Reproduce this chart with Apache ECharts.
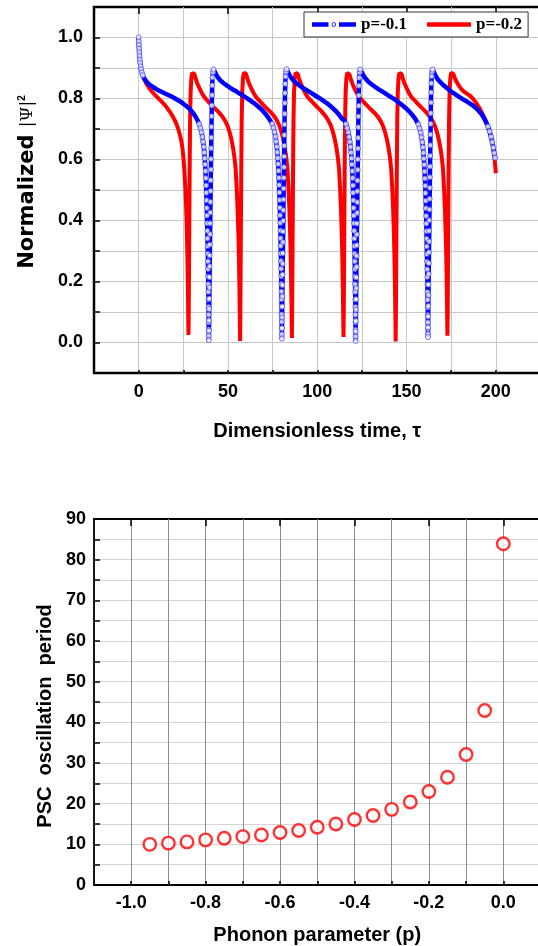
<!DOCTYPE html>
<html>
<head>
<meta charset="utf-8">
<script src="https://cdn.jsdelivr.net/npm/echarts@6.0.0/dist/echarts.min.js"></script>
<style>
  html, body { margin: 0; padding: 0; background: #fff; }
  #chart { width: 538px; height: 946px; }
</style>
</head>
<body>
<div id="chart"></div>
<script>
// ---- Tick labels ----
const tauTicks = [0, 50, 100, 150, 200];
const psiTicks = [0.0, 0.2, 0.4, 0.6, 0.8, 1.0];
const pTicks = [-1.0, -0.8, -0.6, -0.4, -0.2, 0.0];
const periodTicks = [0, 10, 20, 30, 40, 50, 60, 70, 80, 90];

// ---- Upper panel: normalized |Psi|^2 versus tau, [tau, value] ----
// p = -0.1
const blueStart = [
  [0,1.000],[0.08,0.987],[0.16,0.975],[0.25,0.963],[0.36,0.951],[0.5,0.939],[0.66,0.927],[0.86,0.916],
  [1.1,0.905],[1.4,0.895],[1.8,0.885],[2.3,0.876],[3.0,0.867],[3.9,0.859],[5.0,0.851],[6.4,0.844],
  [8.2,0.837],[10.4,0.829],[12.8,0.822],[15.3,0.815],[17.9,0.808],[20.4,0.800],[22.8,0.792],[25.0,0.783],
  [27.0,0.774],[28.8,0.764],[30.4,0.753],[31.8,0.741],[33.0,0.728],[33.9,0.716],[34.6,0.703],[35.2,0.689],
  [35.7,0.674],[36.1,0.658],[36.45,0.641],[36.75,0.623],[37.0,0.604],[37.22,0.584],[37.42,0.562],[37.6,0.539],
  [37.76,0.515],[37.9,0.491],[38.03,0.466],[38.15,0.441],[38.26,0.416],[38.36,0.391],[38.46,0.366],[38.55,0.341],
  [38.63,0.316],[38.71,0.291],[38.78,0.266],[38.85,0.241],[38.92,0.216],[38.98,0.191],[39.04,0.166],[39.09,0.141],
  [39.14,0.116],[39.18,0.091],[39.22,0.066],[39.25,0.043],[39.28,0.022],[39.3,0.008]
];
const blueCycle1 = [
  [39.34,0.038],[39.41,0.073],[39.48,0.109],[39.56,0.144],[39.63,0.180],[39.7,0.214],[39.78,0.250],[39.85,0.285],
  [39.93,0.321],[40.0,0.355],[40.08,0.391],[40.15,0.426],[40.23,0.461],[40.31,0.497],[40.38,0.532],[40.46,0.567],
  [40.54,0.602],[40.62,0.637],[40.7,0.672],[40.78,0.707],[40.87,0.742],[40.96,0.777],[41.06,0.811],[41.19,0.843],
  [41.36,0.869],[41.6,0.886],[41.9,0.895],
  [42.3,0.892],[42.8,0.886],[43.5,0.877],[44.5,0.868],[45.8,0.859],[47.4,0.851],[49.5,0.842],[52.0,0.832],
  [55.0,0.822],[58.2,0.810],[61.4,0.798],[64.4,0.786],[67.1,0.773],[69.5,0.760],[71.4,0.747],[72.9,0.735],
  [73.9,0.729],[74.8,0.717],[75.5,0.704],[76.1,0.690],[76.6,0.675],[77.0,0.659],[77.35,0.642],[77.65,0.624],
  [77.9,0.605],[78.12,0.585],[78.32,0.563],[78.5,0.540],[78.66,0.516],[78.8,0.492],[78.93,0.467],[79.05,0.442],
  [79.16,0.417],[79.26,0.392],[79.36,0.367],[79.45,0.342],[79.53,0.317],[79.61,0.292],[79.68,0.267],[79.75,0.242],
  [79.82,0.217],[79.88,0.192],[79.94,0.167],[79.99,0.142],[80.04,0.117],[80.08,0.092],[80.12,0.068],[80.15,0.046],
  [80.18,0.027],[80.2,0.013]
];
const blueCycle2 = [
  [80.24,0.047],[80.31,0.082],[80.38,0.118],[80.46,0.152],[80.53,0.188],[80.6,0.223],[80.68,0.258],[80.75,0.293],
  [80.83,0.329],[80.9,0.364],[80.98,0.399],[81.05,0.434],[81.13,0.469],[81.21,0.505],[81.28,0.540],[81.36,0.575],
  [81.44,0.610],[81.52,0.645],[81.6,0.680],[81.68,0.715],[81.77,0.750],[81.86,0.785],[81.96,0.818],[82.09,0.848],
  [82.26,0.872],[82.5,0.888],[82.8,0.896],
  [83.2,0.892],[83.7,0.886],[84.4,0.877],[85.4,0.868],[86.7,0.859],[88.3,0.850],[90.4,0.841],[92.9,0.831],
  [95.9,0.821],[99.1,0.809],[102.3,0.797],[105.3,0.785],[108.0,0.772],[110.4,0.759],[112.3,0.746],[113.8,0.734],
  [115.2,0.728],[116.1,0.716],[116.8,0.703],[117.4,0.689],[117.9,0.674],[118.3,0.658],[118.65,0.641],[118.95,0.623],
  [119.2,0.604],[119.42,0.584],[119.62,0.562],[119.8,0.539],[119.96,0.515],[120.1,0.491],[120.23,0.466],[120.35,0.441],
  [120.46,0.416],[120.56,0.391],[120.66,0.366],[120.75,0.341],[120.83,0.316],[120.91,0.291],[120.98,0.266],[121.05,0.241],
  [121.12,0.216],[121.18,0.191],[121.24,0.166],[121.29,0.141],[121.34,0.116],[121.38,0.091],[121.42,0.066],[121.45,0.042],
  [121.48,0.020],[121.5,0.005]
];
const blueCycle3 = [
  [121.54,0.036],[121.61,0.071],[121.68,0.107],[121.76,0.142],[121.83,0.178],[121.9,0.213],[121.98,0.248],[122.05,0.284],
  [122.13,0.319],[122.2,0.354],[122.28,0.390],[122.35,0.425],[122.43,0.460],[122.51,0.496],[122.58,0.531],[122.66,0.566],
  [122.74,0.601],[122.82,0.636],[122.9,0.671],[122.98,0.706],[123.07,0.741],[123.16,0.776],[123.26,0.810],[123.39,0.842],
  [123.56,0.868],[123.8,0.886],[124.1,0.895],
  [124.5,0.892],[125.0,0.886],[125.7,0.877],[126.7,0.868],[128.0,0.859],[129.6,0.850],[131.7,0.841],[134.2,0.831],
  [137.2,0.820],[140.4,0.808],[143.6,0.796],[146.6,0.783],[149.3,0.770],[151.6,0.757],[153.5,0.744],[154.9,0.733],
  [155.7,0.727],[156.6,0.715],[157.3,0.702],[157.9,0.688],[158.4,0.673],[158.8,0.657],[159.15,0.640],[159.45,0.622],
  [159.7,0.603],[159.92,0.583],[160.12,0.561],[160.3,0.538],[160.46,0.514],[160.6,0.490],[160.73,0.465],[160.85,0.440],
  [160.96,0.415],[161.06,0.390],[161.16,0.365],[161.25,0.340],[161.33,0.315],[161.41,0.290],[161.48,0.265],[161.55,0.240],
  [161.62,0.215],[161.68,0.190],[161.74,0.165],[161.79,0.140],[161.84,0.115],[161.88,0.090],[161.92,0.066],[161.95,0.045],
  [161.98,0.028],[162.0,0.018]
];
const blueCycle4 = [
  [162.04,0.050],[162.11,0.085],[162.18,0.120],[162.26,0.155],[162.33,0.190],[162.4,0.225],[162.48,0.260],[162.55,0.296],
  [162.63,0.331],[162.7,0.366],[162.78,0.401],[162.85,0.436],[162.93,0.471],[163.01,0.507],[163.08,0.542],[163.16,0.577],
  [163.24,0.612],[163.32,0.647],[163.4,0.682],[163.48,0.717],[163.57,0.752],[163.66,0.787],[163.76,0.820],[163.89,0.850],
  [164.06,0.873],[164.3,0.888],[164.6,0.895],
  [165.0,0.891],[165.5,0.884],[166.2,0.875],[167.2,0.865],[168.5,0.856],[170.2,0.846],[172.4,0.835],[175.0,0.823],
  [178.0,0.811],[181.2,0.799],[184.3,0.788],[187.2,0.777],[189.6,0.765],[191.6,0.752],[193.2,0.738],[194.5,0.723],
  [195.6,0.708],[196.5,0.692],[197.3,0.675],[198.0,0.657],[198.6,0.639],[199.1,0.621],[199.6,0.606],[200.0,0.600]
];

// p = -0.2
const redStart = [
  [0,1.000],[0.15,0.975],[0.35,0.952],[0.65,0.930],[1.05,0.910],[1.6,0.892],[2.3,0.876],[3.2,0.862],
  [4.3,0.849],[5.7,0.836],[7.4,0.823],[9.4,0.810],[11.6,0.797],[13.7,0.785],[15.6,0.772],[17.3,0.758],
  [18.8,0.744],[20.1,0.730],[21.2,0.716],[22.2,0.699],[23.0,0.683],[23.8,0.664],[24.5,0.638],[25.1,0.604],
  [25.6,0.563],[26.1,0.512],[26.55,0.452],[26.95,0.375],[27.25,0.295],[27.5,0.210],[27.68,0.130],[27.8,0.065],
  [27.9,0.025]
];
const redCycle1 = [
  [28.05,0.10],[28.3,0.33],[28.55,0.56],[28.8,0.73],[29.1,0.82],[29.5,0.866],[30.0,0.884],[30.6,0.889],
  [31.2,0.880],[31.9,0.866],[32.8,0.850],[34.1,0.833],[35.6,0.815],[37.1,0.802],[38.8,0.791],[40.6,0.780],
  [42.4,0.769],[44.0,0.760],[45.3,0.752],[47.0,0.740],[48.5,0.726],[49.8,0.710],[50.9,0.690],[51.9,0.667],
  [52.8,0.640],[53.6,0.608],[54.3,0.570],[54.9,0.505],[55.4,0.435],[55.8,0.362],[56.1,0.290],[56.35,0.210],
  [56.55,0.130],[56.7,0.060],[56.8,0.005]
];
const redCycle2 = [
  [56.95,0.10],[57.2,0.33],[57.45,0.56],[57.7,0.73],[58.0,0.82],[58.4,0.866],[58.9,0.884],[59.5,0.889],
  [60.1,0.881],[60.8,0.867],[61.7,0.851],[63.0,0.834],[64.5,0.816],[66.0,0.803],[67.7,0.792],[69.5,0.781],
  [71.3,0.770],[72.9,0.761],[74.3,0.753],[76.0,0.741],[77.5,0.727],[78.8,0.711],[79.9,0.691],[80.9,0.668],
  [81.8,0.641],[82.6,0.609],[83.3,0.571],[83.9,0.506],[84.4,0.436],[84.8,0.363],[85.1,0.290],[85.35,0.210],
  [85.55,0.130],[85.7,0.060],[85.8,0.015]
];
const redCycle3 = [
  [85.95,0.10],[86.2,0.33],[86.45,0.56],[86.7,0.73],[87.0,0.82],[87.4,0.866],[87.9,0.884],[88.5,0.889],
  [89.1,0.880],[89.8,0.866],[90.7,0.850],[92.0,0.833],[93.5,0.815],[95.0,0.802],[96.7,0.792],[98.5,0.781],
  [100.3,0.770],[101.9,0.761],[103.2,0.752],[104.9,0.740],[106.4,0.726],[107.7,0.710],[108.8,0.690],[109.8,0.667],
  [110.7,0.640],[111.5,0.608],[112.2,0.570],[112.8,0.505],[113.3,0.435],[113.7,0.362],[114.0,0.290],[114.25,0.210],
  [114.45,0.130],[114.6,0.060],[114.7,0.018]
];
const redCycle4 = [
  [114.85,0.10],[115.1,0.33],[115.35,0.56],[115.6,0.73],[115.9,0.82],[116.3,0.866],[116.8,0.884],[117.4,0.889],
  [118.0,0.879],[118.7,0.865],[119.6,0.849],[120.9,0.832],[122.4,0.815],[123.9,0.802],[125.6,0.791],[127.4,0.780],
  [129.2,0.769],[130.8,0.760],[132.4,0.751],[134.1,0.739],[135.6,0.725],[136.9,0.709],[138.0,0.689],[139.0,0.666],
  [139.9,0.639],[140.7,0.607],[141.4,0.569],[142.0,0.504],[142.5,0.434],[142.9,0.361],[143.2,0.290],[143.45,0.210],
  [143.65,0.130],[143.8,0.060],[143.9,0.003]
];
const redCycle5 = [
  [144.05,0.10],[144.3,0.33],[144.55,0.56],[144.8,0.73],[145.1,0.82],[145.5,0.866],[146.0,0.884],[146.6,0.889],
  [147.2,0.880],[147.9,0.866],[148.8,0.850],[150.1,0.833],[151.6,0.815],[153.1,0.802],[154.8,0.792],[156.6,0.781],
  [158.4,0.770],[160.0,0.761],[161.4,0.752],[163.1,0.740],[164.6,0.726],[165.9,0.710],[167.0,0.690],[168.0,0.667],
  [168.9,0.640],[169.7,0.608],[170.4,0.570],[171.0,0.505],[171.5,0.435],[171.9,0.362],[172.2,0.290],[172.45,0.210],
  [172.65,0.130],[172.8,0.060],[172.9,0.022]
];
const redEnd = [
  [173.05,0.10],[173.3,0.33],[173.55,0.56],[173.8,0.73],[174.1,0.82],[174.5,0.866],[175.0,0.884],[175.6,0.889],
  [176.2,0.881],[176.9,0.869],[177.8,0.857],[179.0,0.845],[180.5,0.832],[182.2,0.822],[184.0,0.815],[185.4,0.810],
  [187.5,0.797],[189.4,0.782],[191.0,0.767],[192.5,0.750],[193.9,0.732],[195.0,0.716],[196.0,0.700],[196.9,0.682],
  [197.7,0.662],[198.4,0.642],[199.0,0.617],[199.5,0.590],[200.0,0.555]
];

// ---- Lower panel: PSC oscillation period versus phonon parameter ----
const phononP = [-0.95, -0.90, -0.85, -0.80, -0.75, -0.70, -0.65, -0.60, -0.55, -0.50,
                 -0.45, -0.40, -0.35, -0.30, -0.25, -0.20, -0.15, -0.10, -0.05, 0.00];
const pscPeriod = [10.0, 10.3, 10.6, 11.1, 11.5, 11.9, 12.3, 12.9, 13.4, 14.2,
                   15.0, 16.1, 17.1, 18.6, 20.4, 23.0, 26.5, 32.1, 42.9, 83.9];

const blueData = [].concat(blueStart, blueCycle1, blueCycle2, blueCycle3, blueCycle4);
const redData = [].concat(redStart, redCycle1, redCycle2, redCycle3, redCycle4, redCycle5, redEnd);

// open circles are only distinguishable where the curve is steep
function steepPoints(pts, limit) {
  return pts.filter(function (pt, i) {
    const prev = pts[i - 1], next = pts[i + 1];
    const s1 = prev ? Math.abs(pt[1] - prev[1]) / (pt[0] - prev[0]) : 0;
    const s2 = next ? Math.abs(next[1] - pt[1]) / (next[0] - pt[0]) : 0;
    return Math.max(s1, s2) > limit;
  });
}
const blueMarkers = steepPoints(blueData, 0.015);

const SANS = 'Liberation Sans';
const tickFont = { fontFamily: SANS, fontWeight: 'bold', fontSize: 18, color: '#000' };
const titleFont = { fontFamily: SANS, fontWeight: 'bold', fontSize: 20, color: '#000' };
const tickLine = { color: '#000', width: 1.5 };
const noLine = { show: false, onZero: false };

const bluePath = 'path://M0,0L16.5,0L16.5,4.4L0,4.4Z M27,0L44,0L44,4.4L27,4.4Z ' +
  'M24,2.2A2.2,2.2,0,1,1,19.6,2.2A2.2,2.2,0,1,1,24,2.2Z M23.2,2.2A1.4,1.4,0,1,0,20.4,2.2A1.4,1.4,0,1,0,23.2,2.2Z';
const redPath = 'path://M0,0L44,0L44,4.4L0,4.4Z';

const chart = echarts.init(document.getElementById('chart'), null, { renderer: 'canvas' });

chart.setOption({
  animation: false,
  backgroundColor: '#fff',
  textStyle: { fontFamily: SANS },
  grid: [
    { left: 94, top: 7, width: 446.5, height: 366, containLabel: false, outerBoundsMode: 'none',
      show: true, borderColor: '#000', borderWidth: 2.5, backgroundColor: 'transparent' },
    { left: 94, top: 519, width: 446.5, height: 366, containLabel: false, outerBoundsMode: 'none',
      show: true, borderColor: '#000', borderWidth: 1.8, backgroundColor: 'transparent' }
  ],
  legend: {
    left: 304, top: 12, orient: 'horizontal',
    itemWidth: 44, itemHeight: 4.4, itemGap: 20,
    padding: [4, 6, 4, 8],
    backgroundColor: '#fff', borderColor: '#333', borderWidth: 1, borderRadius: 0,
    selectedMode: false,
    itemStyle: { borderWidth: 0 },
    textStyle: { fontFamily: 'Liberation Serif', fontWeight: 'bold', fontSize: 17, color: '#000' },
    data: [
      { name: 'p=-0.1', icon: bluePath },
      { name: 'p=-0.2', icon: redPath }
    ]
  },
  xAxis: [
    {
      gridIndex: 0, type: 'value', min: -25, max: 225, interval: 25,
      axisLine: noLine,
      axisTick: { show: true, inside: true, length: 3, lineStyle: tickLine },
      axisLabel: Object.assign({ margin: 10, formatter: function (v) { return tauTicks.includes(v) ? String(v) : ''; } }, tickFont),
      splitLine: { show: true, showMinLine: false, showMaxLine: false, lineStyle: { color: '#c8c8c8', width: 1 } },
      name: 'Dimensionless time, τ', nameLocation: 'middle', nameGap: 48, nameTextStyle: titleFont
    },
    {
      gridIndex: 0, type: 'value', min: -25, max: 225,
      axisLine: noLine, axisLabel: { show: false }, splitLine: { show: false },
      axisTick: { show: true, inside: true, length: 7, customValues: tauTicks, lineStyle: tickLine }
    },
    {
      gridIndex: 1, type: 'value', min: -1.1, max: 0.1, interval: 0.1,
      axisLine: noLine,
      axisTick: { show: true, inside: true, length: 4, lineStyle: tickLine },
      axisLabel: Object.assign({ margin: 9, formatter: function (v) {
        const k = Math.round(v * 10) / 10;
        return pTicks.includes(k) ? (k === 0 ? '0.0' : k.toFixed(1)) : '';
      } }, tickFont),
      splitLine: { show: true, showMinLine: false, showMaxLine: false, lineStyle: { color: '#8c8c8c', width: 1 } },
      name: 'Phonon parameter (p)', nameLocation: 'middle', nameGap: 40, nameTextStyle: titleFont
    },
    {
      gridIndex: 1, type: 'value', min: -1.1, max: 0.1,
      axisLine: noLine, axisLabel: { show: false }, splitLine: { show: false },
      axisTick: { show: true, inside: true, length: 7, customValues: pTicks, lineStyle: tickLine }
    }
  ],
  yAxis: [
    {
      gridIndex: 0, type: 'value', min: -0.1, max: 1.1, interval: 0.1,
      axisLine: noLine,
      axisTick: { show: true, inside: true, length: 6, lineStyle: tickLine },
      axisLabel: Object.assign({ margin: 11, formatter: function (v) {
        const k = Math.round(v * 10) / 10;
        return psiTicks.includes(k) ? Math.abs(k).toFixed(1) : '';
      } }, tickFont),
      splitLine: { show: true, showMinLine: false, showMaxLine: false, lineStyle: { color: '#c8c8c8', width: 1 } },
      name: '{a|Normalized }{b||Ψ|}{c|2}', nameLocation: 'middle', nameGap: 56, nameRotate: 90,
      nameTextStyle: {
        fontFamily: 'DejaVu Sans', fontWeight: 'bold', fontSize: 21, color: '#000',
        padding: [0, 0, 0, 16],
        rich: {
          a: { fontFamily: 'DejaVu Sans', fontWeight: 'bold', fontSize: 21, color: '#000' },
          b: { fontFamily: 'DejaVu Serif', fontWeight: 'normal', fontSize: 17, color: '#000' },
          c: { fontFamily: SANS, fontWeight: 'bold', fontSize: 10, color: '#000', verticalAlign: 'top' }
        }
      }
    },
    {
      gridIndex: 1, type: 'value', min: 0, max: 90, interval: 5,
      axisLine: noLine,
      axisTick: { show: true, inside: true, length: 6, lineStyle: tickLine },
      axisLabel: Object.assign({ margin: 8, formatter: function (v) { return periodTicks.includes(v) ? String(v) : ''; } }, tickFont),
      splitLine: { show: true, showMinLine: false, showMaxLine: false, lineStyle: { color: '#d4d4d4', width: 1 } },
      name: 'PSC  oscillation  period', nameLocation: 'middle', nameGap: 38, nameRotate: 90,
      nameTextStyle: Object.assign({ padding: [0, 28, 0, 0] }, titleFont)
    }
  ],
  series: [
    {
      name: 'p=-0.2', type: 'line', xAxisIndex: 0, yAxisIndex: 0, z: 2,
      data: redData, symbol: 'none', showSymbol: false,
      itemStyle: { color: '#ff0000' },
      lineStyle: { color: '#ff0000', width: 4 }
    },
    {
      name: 'p=-0.1', type: 'line', xAxisIndex: 0, yAxisIndex: 0, z: 3,
      data: blueData, symbol: 'none', showSymbol: false,
      itemStyle: { color: '#0000ff' },
      lineStyle: { color: '#0000ff', width: 4.5 }
    },
    {
      type: 'scatter', xAxisIndex: 0, yAxisIndex: 0, z: 4,
      data: blueMarkers, symbol: 'circle', symbolSize: 5,
      itemStyle: { color: '#ffffff', borderColor: '#4a4aff', borderWidth: 1 },
      emphasis: { disabled: true }, silent: true
    },
    {
      type: 'scatter', xAxisIndex: 2, yAxisIndex: 1, z: 3,
      data: phononP.map(function (p, i) { return [p, pscPeriod[i]]; }),
      symbol: 'circle', symbolSize: 12.5,
      itemStyle: { color: '#ffffff', borderColor: '#ff0000', borderWidth: 2.4 },
      emphasis: { disabled: true }, silent: true
    }
  ]
});
</script>
</body>
</html>
